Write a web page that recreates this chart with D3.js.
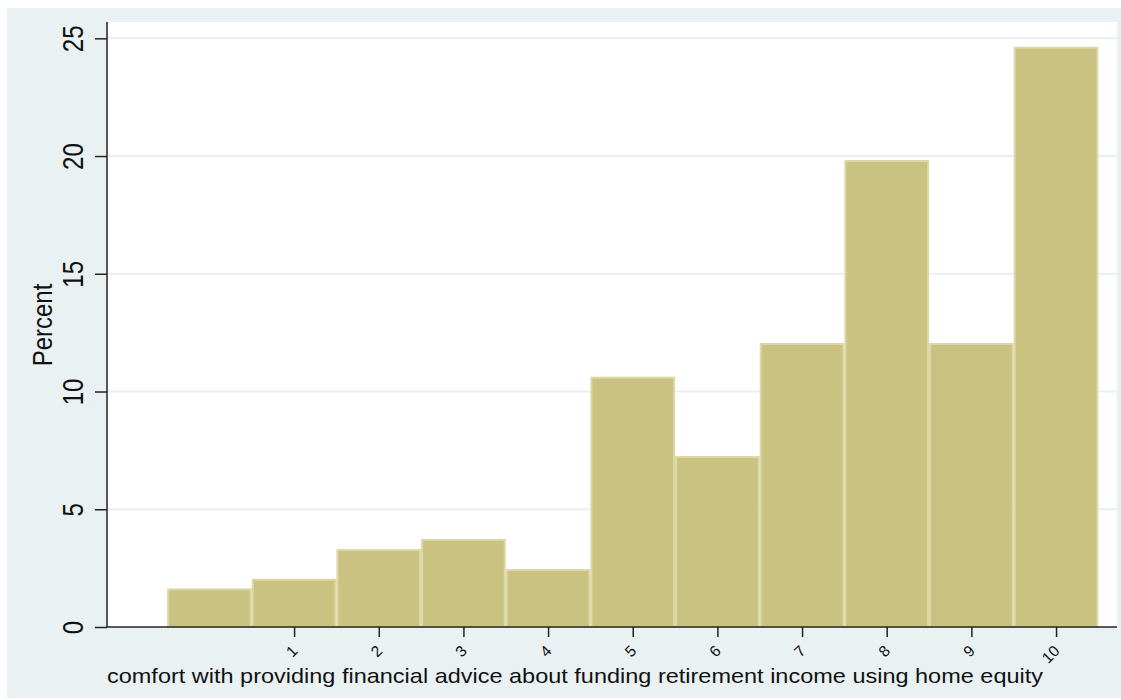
<!DOCTYPE html>
<html>
<head>
<meta charset="utf-8">
<script src="https://cdn.jsdelivr.net/npm/d3@7"></script>
<style>
  html, body { margin: 0; padding: 0; background: #ffffff; }
  svg { display: block; }
  text { font-family: "Liberation Sans", Arial, sans-serif; fill: #111; }
</style>
</head>
<body>
<svg id="chart" width="1121" height="700"></svg>
<script>
// Survey response scale (0-10) and share of respondents in each category
const categories = [0, 1, 2, 3, 4, 5, 6, 7, 8, 9, 10];
const percents = [1.64, 2.05, 3.31, 3.74, 2.46, 10.63, 7.26, 12.06, 19.83, 12.06, 24.64];
const xTickValues = [1, 2, 3, 4, 5, 6, 7, 8, 9, 10];
const yTickValues = [0, 5, 10, 15, 20, 25];
const xTitle = "comfort with providing financial advice about funding retirement income using home equity";
const yTitle = "Percent";

const svg = d3.select("#chart");

// Graph region and plot region
const outer = { x0: 7, y0: 8, x1: 1121, y1: 698 };
const plot = { left: 107, right: 1117, top: 22, bottom: 627 };

const x = d3.scaleLinear().domain([-1.21, 10.72]).range([plot.left, plot.right]);
const y = d3.scaleLinear().domain([0, 25]).range([plot.bottom, 38.3]);

svg.append("rect")
  .attr("x", outer.x0).attr("y", outer.y0)
  .attr("width", outer.x1 - outer.x0).attr("height", outer.y1 - outer.y0)
  .attr("fill", "#e9f1f3");

svg.append("rect")
  .attr("x", plot.left).attr("y", plot.top)
  .attr("width", plot.right - plot.left).attr("height", plot.bottom - plot.top)
  .attr("fill", "#ffffff");

// Horizontal gridlines
svg.append("g")
  .selectAll("line")
  .data(yTickValues.filter(d => d > 0))
  .join("line")
  .attr("x1", plot.left).attr("x2", plot.right)
  .attr("y1", d => y(d)).attr("y2", d => y(d))
  .attr("stroke", "#e6eff2")
  .attr("stroke-width", 2);

// Histogram bars, one unit wide and centred on each category
svg.append("g")
  .selectAll("rect")
  .data(categories.map((c, i) => ({ c, v: percents[i] })))
  .join("rect")
  .attr("x", d => x(d.c - 0.5) + 1)
  .attr("width", d => x(d.c + 0.5) - x(d.c - 0.5) - 2)
  .attr("y", d => y(d.v) + 1)
  .attr("height", d => y(0) - y(d.v) - 1)
  .attr("fill", "#c9c280")
  .attr("stroke", "#dcd7a6")
  .attr("stroke-width", 2);

// Y axis
const yAxis = d3.axisLeft(y).tickValues(yTickValues).tickSize(12).tickFormat(d3.format("d"));
const gy = svg.append("g").attr("transform", `translate(${plot.left},0)`).call(yAxis);
gy.select(".domain").remove();
gy.selectAll(".tick line").attr("stroke", "#222").attr("stroke-width", 1.5);
gy.selectAll(".tick text")
  .attr("x", null).attr("dy", null)
  .attr("text-anchor", "middle")
  .attr("transform", "translate(-24,0) rotate(-90) scale(1,1.25)")
  .attr("font-size", 24)
  .attr("font-family", "Liberation Sans, Arial, sans-serif")
  .attr("fill", "#111");
svg.append("line")
  .attr("x1", plot.left).attr("x2", plot.left)
  .attr("y1", plot.top).attr("y2", plot.bottom)
  .attr("stroke", "#222").attr("stroke-width", 1.5);

// X axis
const xAxis = d3.axisBottom(x).tickValues(xTickValues).tickSize(10).tickFormat(d3.format("d"));
const gx = svg.append("g").attr("transform", `translate(0,${plot.bottom})`).call(xAxis);
gx.select(".domain").remove();
gx.selectAll(".tick line").attr("stroke", "#222").attr("stroke-width", 1.5);
gx.selectAll(".tick text")
  .attr("y", null).attr("dy", null)
  .attr("text-anchor", "end")
  .attr("transform", "translate(4,25) rotate(-45)")
  .attr("font-size", 15.5)
  .attr("font-family", "Liberation Sans, Arial, sans-serif")
  .attr("fill", "#111");
svg.append("line")
  .attr("x1", plot.left).attr("x2", plot.right)
  .attr("y1", plot.bottom).attr("y2", plot.bottom)
  .attr("stroke", "#222").attr("stroke-width", 1.5);

// Axis titles
svg.append("text")
  .attr("transform", `translate(${plot.left},683)`)
  .attr("font-size", 21)
  .attr("textLength", 936)
  .attr("lengthAdjust", "spacingAndGlyphs")
  .text(xTitle);

svg.append("text")
  .attr("transform", "translate(52,325) rotate(-90) scale(1,1.15)")
  .attr("text-anchor", "middle")
  .attr("font-size", 24)
  .text(yTitle);
</script>
</body>
</html>
